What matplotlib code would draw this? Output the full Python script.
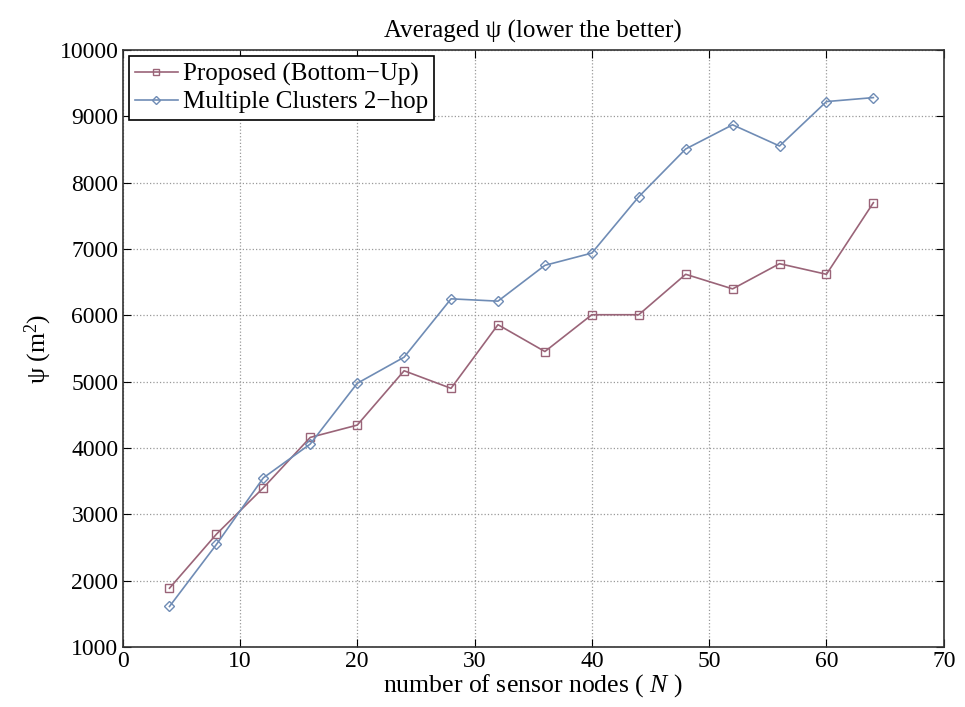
import matplotlib
matplotlib.use("Agg")
import matplotlib.pyplot as plt

plt.rcParams['font.family'] = ['Liberation Serif', 'DejaVu Serif']
plt.rcParams['mathtext.fontset'] = 'custom'
plt.rcParams['mathtext.rm'] = 'Liberation Serif'
plt.rcParams['mathtext.it'] = 'Liberation Serif:italic'

nodes = [4, 8, 12, 16, 20, 24, 28, 32, 36, 40, 44, 48, 52, 56, 60, 64]
proposed = [1885, 2700, 3400, 4160, 4345, 5165, 4900, 5860, 5455, 6010,
            6010, 6620, 6400, 6780, 6620, 7700]
multi_2hop = [1610, 2545, 3550, 4060, 4975, 5370, 6250, 6215, 6755, 6940,
              7790, 8510, 8875, 8555, 9225, 9285]

fig = plt.figure(figsize=(9.65, 7.07), dpi=100)
ax = fig.add_axes([0.127, 0.085, 0.851, 0.844])

ax.plot(nodes, proposed, color='#9a6478', marker='s', markersize=6,
        markerfacecolor='none', markeredgewidth=1.0, linewidth=1.2,
        label='Proposed (Bottom\u2212Up)')
ax.plot(nodes, multi_2hop, color='#6f8cb5', marker='D', markersize=5.5,
        markerfacecolor='none', markeredgewidth=1.0, linewidth=1.2,
        label='Multiple Clusters 2\u2212hop')

ax.set_xlim(0, 70)
ax.set_ylim(1000, 10000)
ax.set_xticks(range(0, 71, 10))
ax.set_yticks(range(1000, 10001, 1000))
ax.grid(True, linestyle=':', color='#999999', linewidth=0.9)
ax.tick_params(direction='in', top=True, right=True, labelsize=17, length=6, pad=3)
for s in ax.spines.values():
    s.set_linewidth(1.2)
    s.set_color('#333333')

ax.set_title('Averaged \u03c8 (lower the better)', fontsize=18, pad=9)
ax.set_xlabel('number of sensor nodes ( $\\it{N}$ )', fontsize=18.5, labelpad=0)
ax.set_ylabel('\u03c8 (m$^2$)', fontsize=18.5, labelpad=4)

leg = ax.legend(loc='upper left', fontsize=18, fancybox=False, framealpha=1,
                edgecolor='black', borderpad=0.25, labelspacing=0.2,
                handlelength=1.7, handletextpad=0.2, borderaxespad=0.25,
                markerscale=0.8)
leg.get_frame().set_linewidth(1.2)

fig.savefig('out.png', dpi=100)
